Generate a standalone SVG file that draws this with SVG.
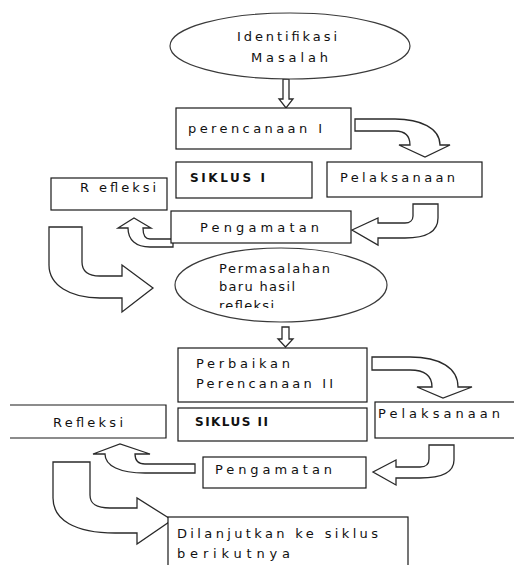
<svg xmlns="http://www.w3.org/2000/svg" width="514" height="565" viewBox="0 0 514 565">
<style>
.box{fill:#fff;stroke:#1a1a1a;stroke-width:1.2}
.ell{fill:#fff;stroke:#3a3a3a;stroke-width:1.2}
.arr{fill:#fff;stroke:#2a2a2a;stroke-width:1.3;stroke-linejoin:miter}
.t{font-family:"DejaVu Sans",Verdana,sans-serif;font-size:13px;fill:#111}
.b{font-family:"DejaVu Sans",Verdana,sans-serif;font-size:12px;font-weight:bold;fill:#111}
</style>
<defs>
<clipPath id="clipR"><rect x="170" y="250" width="220" height="58"/></clipPath>
</defs>
<rect width="514" height="565" fill="#fff"/>
<g id="connectors">
<path class="arr" d="M283,79 L289,79 L289,99 L293,99 L286,108 L279,99 L283,99 Z"/>
<path class="arr" d="M355,119 L395,119 C420,119 440,128 440,145 L450,145 L425,157 L399,145 L410,145 C410,136 405,131 395,131 L355,131 Z"/>
<path class="arr" d="M413,204 L438,204 L438,218 C438,232 425,238 405,238 L378,238 L378,245 L352,230 L378,218 L378,223 L405,223 C410,223 413,220 413,216 Z"/>
<path class="arr" d="M173,239 L150,239 C145,239 143,234 143,228 L151,228 L134,218 L118,228 L128,228 C128,240 136,247 150,247 L173,247 Z"/>
<path class="arr" d="M49,227 L82,227 L82,262 C82,272 88,276 100,276 L122,276 L122,265 L153,288 L122,312 L122,298 L100,298 C70,298 49,285 49,265 Z"/>
<path class="arr" d="M282,327 L289,327 L289,339 L293,339 L285.5,347 L278,339 L282,339 Z"/>
<path class="arr" d="M372,357 L410,357 C440,357 458,368 458,387 L472,387 L443,398 L417,387 L432,387 C432,376 425,370 410,370 L372,370 Z"/>
<path class="arr" d="M429,445 L454,445 L454,460 C454,472 442,478 420,478 L396,478 L396,485 L373,472 L396,460 L396,467 L420,467 C426,467 429,464 429,459 Z"/>
<path class="arr" d="M195,464 L145,464 C138,464 135,460 135,454 L150,454 L120,444 L93,454 L105,454 C105,466 120,473 145,473 L195,473 Z"/>
<path class="arr" d="M53,462 L90,462 L90,495 C90,504 96,508 110,508 L137,508 L137,498 L172,520 L137,544 L137,533 L115,533 C75,533 53,520 53,498 Z"/>
</g>
<g id="identifikasi">
<ellipse class="ell" cx="290" cy="46" rx="120" ry="33"/>
<text class="t" x="237" y="41" textLength="100">Identifikasi</text>
<text class="t" x="251" y="62" textLength="77">Masalah</text>
</g>
<g id="perencanaan1">
<rect class="box" x="176" y="108" width="175" height="41"/>
<text class="t" x="188" y="133" textLength="134">perencanaan I</text>
</g>
<g id="siklus1">
<rect class="box" x="176" y="162" width="136" height="36"/>
<text class="b" x="190" y="182" textLength="75">SIKLUS I</text>
</g>
<g id="pelaksanaan1">
<rect class="box" x="327" y="162" width="155" height="35"/>
<text class="t" x="340" y="182" textLength="115">Pelaksanaan</text>
</g>
<g id="refleksi1">
<rect class="box" x="51" y="178" width="116" height="32"/>
<text class="t" x="80" y="192" textLength="76">R efleksi</text>
</g>
<g id="pengamatan1">
<rect class="box" x="171" y="211" width="180" height="32"/>
<text class="t" x="200" y="232" textLength="119">Pengamatan</text>
</g>
<g id="permasalahan">
<ellipse class="ell" cx="281" cy="285" rx="106" ry="37"/>
<text class="t" x="219" y="273" textLength="111">Permasalahan</text>
<text class="t" x="219" y="291" textLength="76">baru hasil</text>
<text class="t" x="219" y="310" textLength="55" clip-path="url(#clipR)">refleksi</text>
</g>
<g id="perbaikan">
<rect class="box" x="178" y="348" width="189" height="54"/>
<text class="t" x="196" y="368" textLength="94">Perbaikan</text>
<text class="t" x="196" y="388" textLength="137">Perencanaan II</text>
</g>
<g id="siklus2">
<rect class="box" x="178" y="408" width="189" height="33"/>
<text class="b" x="195" y="426" textLength="73">SIKLUS II</text>
</g>
<g id="refleksi2">
<path class="box" d="M10,405 H166 V438 H10"/>
<text class="t" x="53" y="427" textLength="70">Refleksi</text>
</g>
<g id="pelaksanaan2">
<rect class="box" x="375" y="402" width="150" height="36"/>
<text class="t" x="378" y="418" textLength="122">Pelaksanaan</text>
</g>
<g id="pengamatan2">
<rect class="box" x="203" y="457" width="163" height="31"/>
<text class="t" x="215" y="474" textLength="117">Pengamatan</text>
</g>
<g id="dilanjutkan">
<rect class="box" x="168" y="517" width="240" height="60"/>
<text class="t" x="177" y="538" textLength="201">Dilanjutkan ke siklus</text>
<text class="t" x="177" y="558" textLength="113">berikutnya</text>
</g>
</svg>
